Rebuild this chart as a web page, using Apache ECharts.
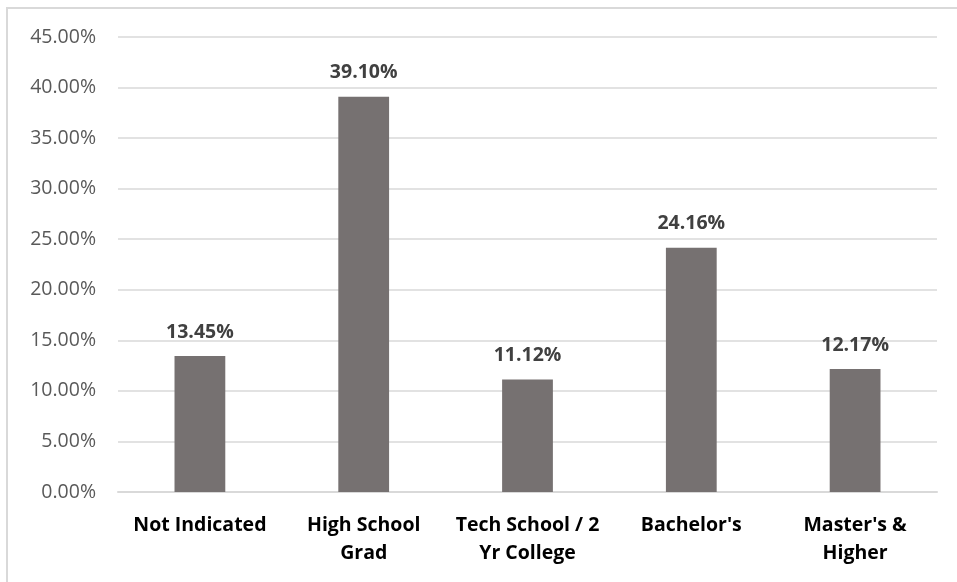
<!DOCTYPE html>
<html>
<head>
<meta charset="utf-8">
<script src="https://cdn.jsdelivr.net/npm/echarts@6/dist/echarts.min.js"></script>
<style>
  html, body { margin: 0; padding: 0; background: #fff; }
  #frame { position: absolute; left: 6px; top: 7px; width: 960px; height: 590px;
           border-left: 2px solid #d9d9d9; border-top: 2px solid #d9d9d9; box-sizing: border-box; }
  #chart { position: absolute; left: 0; top: 0; width: 957px; height: 582px; }
</style>
</head>
<body>
<div id="frame"></div>
<div id="chart"></div>
<script>
const categories = ['Not Indicated', 'High School\nGrad', 'Tech School / 2\nYr College', "Bachelor's", "Master's &\nHigher"];
const shares = [13.45, 39.10, 11.12, 24.16, 12.17];
const yTicks = { min: 0, max: 45, step: 5 };

const font = '"Open Sans", "DejaVu Sans", sans-serif';
const chart = echarts.init(document.getElementById('chart'), null, { renderer: 'canvas' });
chart.setOption({
  animation: false,
  grid: { left: 118, right: 20, top: 37, bottom: 90 },
  xAxis: {
    type: 'category',
    data: categories,
    axisLine: { lineStyle: { color: '#d9d9d9', width: 2 } },
    axisTick: { show: false },
    axisLabel: { color: '#000', fontFamily: font, fontWeight: 'bold', fontSize: 19.5,
                 lineHeight: 28, margin: 19, interval: 0 }
  },
  yAxis: {
    type: 'value',
    min: yTicks.min, max: yTicks.max, interval: yTicks.step,
    axisLine: { show: false },
    axisTick: { show: false },
    splitLine: { lineStyle: { color: '#d9d9d9', width: 1.5 } },
    axisLabel: { color: '#595959', fontFamily: font, fontSize: 19.5, margin: 22,
                 formatter: v => v.toFixed(2) + '%' }
  },
  series: [{
    type: 'bar',
    data: shares,
    barWidth: '31%',
    itemStyle: { color: '#767171' },
    label: { show: true, position: 'top', distance: 14, color: '#404040',
             fontFamily: font, fontWeight: 'bold', fontSize: 19.5,
             formatter: p => p.value.toFixed(2) + '%' }
  }]
});
</script>
</body>
</html>
